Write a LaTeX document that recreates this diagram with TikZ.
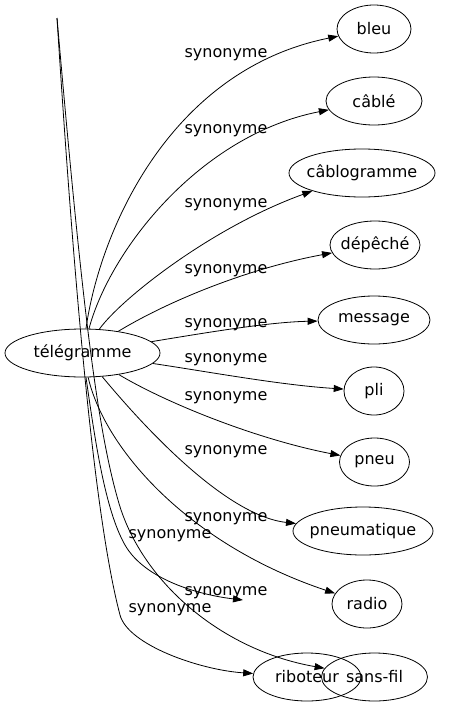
\documentclass[tikz,border=0pt]{standalone}
\usepackage{fontspec}
\setmainfont{DejaVu Sans}
\usetikzlibrary{shapes.geometric, arrows.meta}

\begin{document}
\begin{tikzpicture}[x=1pt, y=-1pt, font=\fontsize{16}{19}\selectfont, line width=0.8pt]
	\tikzstyle{word}  = [ellipse, draw=black, inner sep=0pt, minimum height=48pt]
	\tikzstyle{syn}   = [inner sep=0pt, text=black]
	\tikzstyle{edge}  = [-{Triangle[length=10pt, width=7pt]}]

	\useasboundingbox (0,0) rectangle (470,707);
%	\draw[step=10, gray!30] (0,0) grid (470,707);

	\node[word, minimum width=155pt] (tele) at (82.5,353) {\makebox[0pt]{télégramme}};
	\coordinate (top) at (57,18);
	\coordinate (ghost) at (243,600);

	\foreach \id/\mot/\x/\y/\w in {bleu/bleu/374/29/74, cable/câblé/374/101/96, cablogramme/câblogramme/362/173/146, depeche/dépêché/375/245/90, message/message/374/320/112, pli/pli/374/391/60, pneu/pneu/374.5/462/70, pneumatique/pneumatique/363/531/140, radio/radio/367/604/70, riboteur/riboteur/307/677/108, sansfil/sans-fil/374.5/677/106}
		\node[word, minimum width=\w pt] (\id) at (\x,\y) {\makebox[0pt]{\mot}};

	\foreach \y in {55,131,205,271,325,360,398,452,519,593}
		\node[syn] (syn\y) at (226,\y) {synonyme};
	\foreach \y in {536,610}
		\node[syn] (syn\y) at (170,\y) {synonyme};

	\foreach \to/\ax/\ay/\bx/\by in {bleu/100/230/170/70, cable/110/250/200/135, cablogramme/120/300/210/228, depeche/170/300/250/268, message/210/332/270/322, pli/210/372/280/385, pneu/170/405/260/440, pneumatique/130/410/220/515, radio/105/450/190/545}
		\draw[edge] (tele) .. controls (\ax,\ay) and (\bx,\by) .. (\to);

	\draw[edge] (top) .. controls (75,300) and (95,520) .. (120,615) .. controls (128,645) and (200,670) .. (riboteur);
	\draw[edge] (top) .. controls (80,280) and (95,420) .. (118,500) .. controls (140,580) and (220,650) .. (sansfil);
	\draw[edge] (tele) .. controls (95,440) and (105,510) .. (125,545) .. controls (145,580) and (200,595) .. (ghost);

\end{tikzpicture}
\end{document}
